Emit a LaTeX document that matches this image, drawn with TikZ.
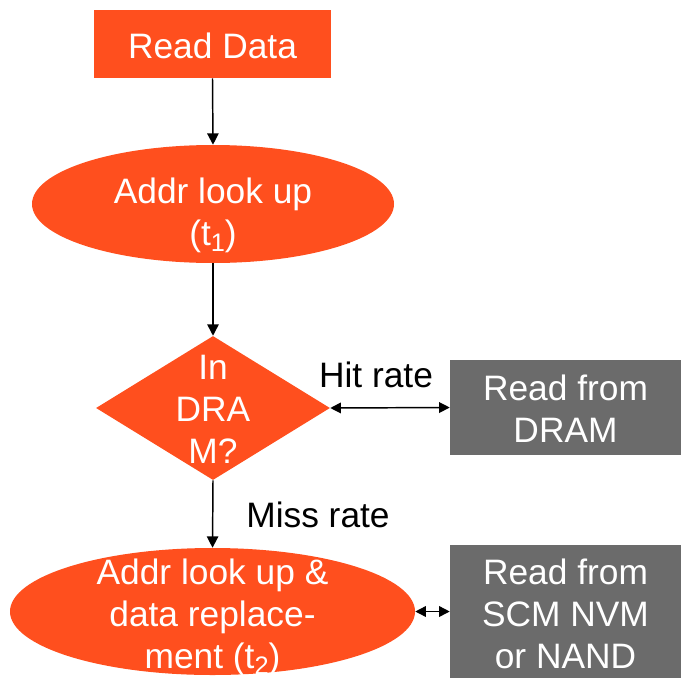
\documentclass[tikz,border=0pt]{standalone}
\usepackage{fontspec}
\setmainfont{Liberation Sans}
\usetikzlibrary{shapes.geometric,arrows.meta}
\definecolor{flowred}{HTML}{FF4F1E}
\definecolor{storegray}{HTML}{6B6B6B}
\newcommand{\lowsub}[1]{\raisebox{-5pt}{\fontsize{19}{19}\selectfont #1}}
\begin{document}
\begin{tikzpicture}[x=0.75pt,y=-0.75pt,
  txt/.style={font=\fontsize{26.5}{31.5}\selectfont, align=center, inner sep=0pt},
  wtxt/.style={txt, text=white},
  flowshape/.style={fill=flowred, draw=none, inner sep=0pt},
  storebox/.style={rectangle, fill=storegray, draw=none, inner sep=0pt, minimum width=173.25pt},
  flow/.style={line width=1.1pt, -{Triangle[length=8.5pt,width=8.5pt]}},
  both/.style={line width=1.1pt, {Triangle[length=8pt,width=8pt]}-{Triangle[length=8pt,width=8pt]}}
]
\useasboundingbox (0,0) rectangle (681,678);

% shapes
\node[flowshape, rectangle, minimum width=177.75pt, minimum height=51pt] (rd) at (212.5,44) {};
\node[flowshape, ellipse, minimum width=271.5pt, minimum height=88.5pt] (e1) at (213,204) {};
\node[flowshape, diamond, minimum width=175.5pt, minimum height=108pt] (dm) at (213,408) {};
\node[flowshape, ellipse, minimum width=303.75pt, minimum height=95.25pt] (e2) at (212.5,611.5) {};
\node[storebox, minimum height=71.25pt] (b1) at (565.5,407.5) {};
\node[storebox, minimum height=99.75pt] (b2) at (565.5,611.5) {};

% texts (base anchor = baseline of the last line)
\node[wtxt, anchor=base] (rdt) at (212.5,58) {Read Data};
\node[wtxt, anchor=base] (e1t) at (213,245) {Addr look up\\(t\lowsub{1})};
\node[wtxt, anchor=base] (dmt) at (213,463) {In\\DRA\\M?};
\node[wtxt, anchor=base] (e2t) at (212.5,668) {Addr look up \&\\data replace-\\ment (t\lowsub{2})};
\node[wtxt, anchor=base] (b1t) at (565.5,442) {Read from\\DRAM};
\node[wtxt, anchor=base] (b2t) at (565.5,668) {Read from\\SCM NVM\\or NAND};
\node[txt, anchor=base] (hit) at (376,387) {Hit rate};
\node[txt, anchor=base] (miss) at (318,527) {Miss rate};

% connectors
\draw[flow] (rd.south) -- (e1.north);
\draw[flow] (e1.south) -- (dm.north);
\draw[flow] (dm.south) -- (e2.north);
\draw[both] (dm.east) -- (b1.west);
\draw[both] (e2.east) -- (b2.west);
\end{tikzpicture}
\end{document}
